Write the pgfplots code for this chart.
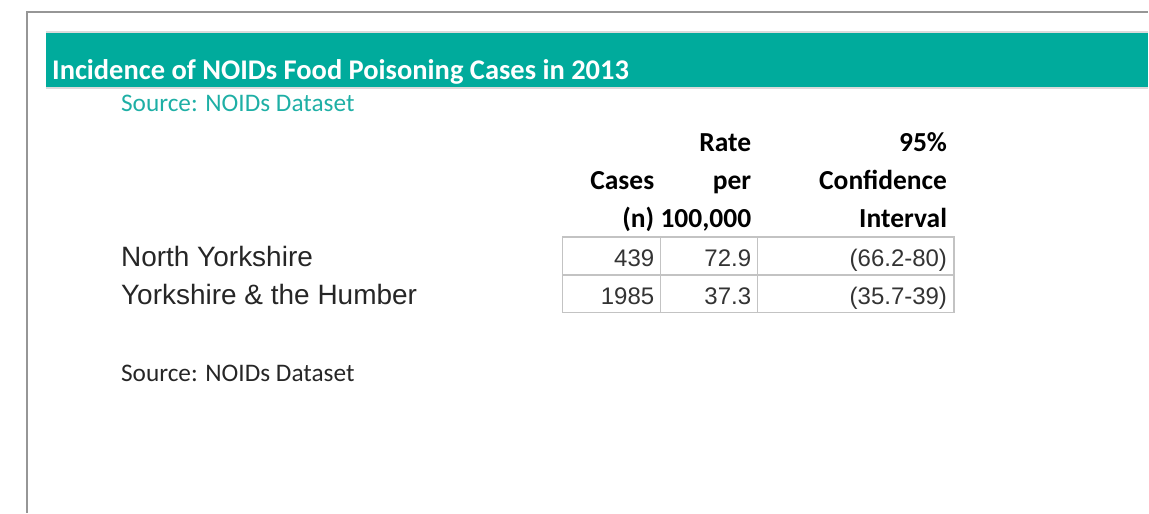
\documentclass[border=0pt]{standalone}
\usepackage{pgfplots}
\pgfplotsset{compat=1.18}
\usepackage{pgfplotstable}
\usepackage{fontspec}
\setmainfont{Carlito}
\newfontfamily\arial{Liberation Sans}
\definecolor{bandteal}{RGB}{0,171,156}
\definecolor{srcteal}{RGB}{30,175,165}
\definecolor{bordergray}{RGB}{150,150,150}
\definecolor{gridgray}{RGB}{195,195,195}

\pgfplotstableread{
x y label
655 267 439
752 267 72.9
948 267 (66.2-80)
655 305 1985
752 305 37.3
948 305 (35.7-39)
}\values

\begin{document}
\begin{tikzpicture}
\begin{axis}[
  scale only axis, width=1149pt, height=513pt,
  xmin=0, xmax=1149, ymin=0, ymax=513, y dir=reverse,
  hide axis, clip=false,
]
\path (axis cs:0,0) rectangle (axis cs:1149,513);
% outer frame
\draw[bordergray, line width=2pt] (axis cs:27,513) -- (axis cs:27,12) -- (axis cs:1149,12);
% title band
\fill[gridgray!60] (axis cs:46,31) rectangle (axis cs:1149,89);
\fill[bandteal] (axis cs:46,33) rectangle (axis cs:1149,87);
\node[anchor=base west, inner sep=0pt, text=white, font=\bfseries\fontsize{28.5}{32}\selectfont] at (axis cs:52,80) {Incidence of NOIDs Food Poisoning Cases in 2013};
\node[anchor=base west, inner sep=0pt, text=srcteal, font=\fontsize{25.3}{28}\selectfont] at (axis cs:121,112) {Source: NOIDs Dataset};
% header
\begin{scope}[every node/.style={anchor=base east, inner sep=0pt, font=\bfseries\fontsize{27.5}{30}\selectfont}]
\node at (axis cs:752,152) {Rate};
\node at (axis cs:948,152) {95\%};
\node at (axis cs:655,190) {Cases};
\node at (axis cs:752,190) {per};
\node at (axis cs:948,190) {Confidence};
\node at (axis cs:655,228) {(n)};
\node at (axis cs:752,228) {100,000};
\node at (axis cs:948,228) {Interval};
\end{scope}
% grid
\draw[gridgray, line width=1.5pt] (axis cs:563,237) rectangle (axis cs:955,313);
\draw[gridgray, line width=1.5pt] (axis cs:563,275) -- (axis cs:955,275);
\draw[gridgray, line width=1.5pt] (axis cs:661,237) -- (axis cs:661,313);
\draw[gridgray, line width=1.5pt] (axis cs:758,237) -- (axis cs:758,313);
% row labels
\node[anchor=base west, inner sep=0pt, font=\arial\fontsize{28}{32}\selectfont, text=black!85] at (axis cs:121,267) {North Yorkshire};
\node[anchor=base west, inner sep=0pt, font=\arial\fontsize{28}{32}\selectfont, text=black!85] at (axis cs:121,305) {Yorkshire \& the Humber};
% values
\addplot[mark=none, draw=none, nodes near coords, point meta=explicit symbolic,
  every node near coord/.append style={anchor=base east, inner sep=0pt, text=black!80, font=\arial\fontsize{24}{28}\selectfont}]
  table[x=x, y=y, meta=label] {\values};
% footer source
\node[anchor=base west, inner sep=0pt, font=\fontsize{25.3}{28}\selectfont, text=black!85] at (axis cs:121,382) {Source: NOIDs Dataset};
\end{axis}
\end{tikzpicture}
\end{document}
